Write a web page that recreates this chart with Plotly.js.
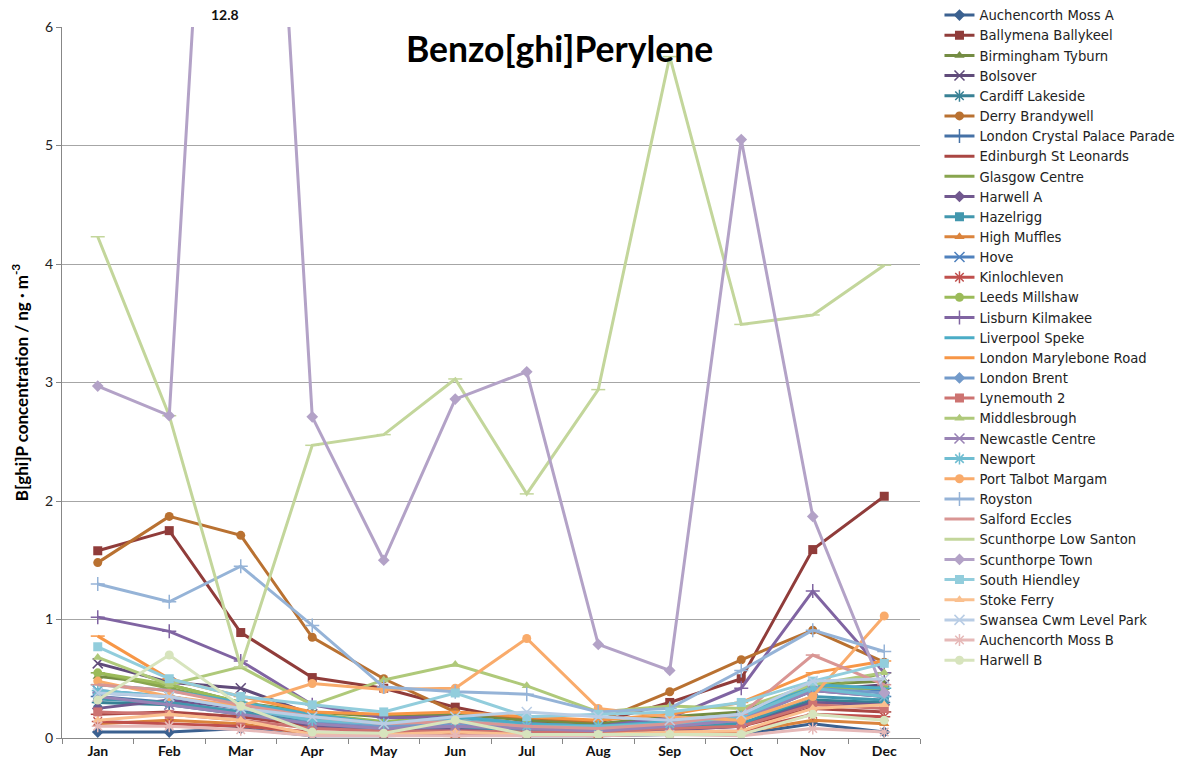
<!DOCTYPE html>
<html>
<head>
<meta charset="utf-8">
<script src="https://cdn.plot.ly/plotly-3.0.1.min.js"></script>
<style>
html,body{margin:0;padding:0;background:#fff;}
#chart{width:1185px;height:771px;}
</style>
</head>
<body>
<div id="chart"></div>
<script>
const months = ["Jan","Feb","Mar","Apr","May","Jun","Jul","Aug","Sep","Oct","Nov","Dec"];

const siteNames = [
  "Auchencorth Moss A","Ballymena Ballykeel","Birmingham Tyburn","Bolsover","Cardiff Lakeside",
  "Derry Brandywell","London Crystal Palace Parade","Edinburgh St Leonards","Glasgow Centre","Harwell A",
  "Hazelrigg","High Muffles","Hove","Kinlochleven","Leeds Millshaw","Lisburn Kilmakee","Liverpool Speke",
  "London Marylebone Road","London Brent","Lynemouth 2","Middlesbrough","Newcastle Centre","Newport",
  "Port Talbot Margam","Royston","Salford Eccles","Scunthorpe Low Santon","Scunthorpe Town",
  "South Hiendley","Stoke Ferry","Swansea Cwm Level Park","Auchencorth Moss B","Harwell B"
];

const auchencorthMossA   = [0.05,0.05,0.08,0.02,0.02,0.03,0.02,0.02,0.03,0.03,0.12,0.05];
const ballymenaBallykeel = [1.58,1.75,0.89,0.51,0.42,0.26,0.14,0.13,0.30,0.50,1.59,2.04];
const birminghamTyburn   = [0.52,0.45,0.30,0.22,0.18,0.20,0.15,0.12,0.18,0.22,0.45,0.48];
const bolsover           = [0.63,0.47,0.42,0.20,0.12,0.15,0.10,0.08,0.12,0.18,0.40,0.45];
const cardiffLakeside    = [0.30,0.28,0.20,0.12,0.08,0.15,0.08,0.07,0.10,0.12,0.32,0.30];
const derryBrandywell    = [1.48,1.87,1.71,0.85,0.50,0.22,0.17,0.14,0.39,0.66,0.91,0.64];
const londonCrystalPalace= [0.35,0.30,0.22,0.15,0.10,0.12,0.08,0.08,0.10,0.15,0.40,0.35];
const edinburghStLeonards= [0.20,0.22,0.18,0.10,0.06,0.07,0.05,0.05,0.07,0.10,0.25,0.22];
const glasgowCentre      = [0.55,0.42,0.28,0.18,0.12,0.14,0.10,0.09,0.12,0.20,0.40,0.55];
const harwellA           = [0.25,0.32,0.25,0.10,0.06,0.08,0.05,0.05,0.07,0.10,0.30,0.28];
const hazelrigg          = [0.33,0.30,0.22,0.12,0.08,0.10,0.06,0.06,0.09,0.12,0.35,0.32];
const highMuffles        = [0.12,0.15,0.12,0.03,0.03,0.02,0.03,0.02,0.04,0.05,0.15,0.12];
const hove               = [0.40,0.35,0.25,0.15,0.10,0.12,0.10,0.08,0.10,0.15,0.45,0.40];
const kinlochleven       = [0.14,0.12,0.10,0.05,0.04,0.04,0.03,0.03,0.05,0.06,0.20,0.18];
const leedsMillshaw      = [0.55,0.45,0.30,0.20,0.14,0.18,0.12,0.10,0.14,0.20,0.42,0.42];
const lisburnKilmakee    = [1.02,0.90,0.65,0.28,0.17,0.18,0.12,0.10,0.17,0.42,1.24,0.55];
const liverpoolSpeke     = [0.45,0.40,0.30,0.20,0.12,0.18,0.12,0.10,0.14,0.20,0.45,0.42];
const londonMarylebone   = [0.86,0.50,0.35,0.22,0.20,0.22,0.18,0.15,0.20,0.30,0.55,0.65];
const londonBrent        = [0.38,0.35,0.25,0.15,0.10,0.12,0.10,0.08,0.10,0.15,0.42,0.38];
const lynemouth2         = [0.22,0.20,0.15,0.08,0.06,0.06,0.05,0.05,0.08,0.10,0.28,0.25];
const middlesbrough      = [0.68,0.45,0.60,0.28,0.49,0.62,0.44,0.22,0.27,0.25,0.45,0.55];
const newcastleCentre    = [0.35,0.28,0.20,0.12,0.08,0.10,0.08,0.06,0.10,0.15,0.40,0.35];
const newport            = [0.40,0.35,0.25,0.15,0.12,0.15,0.10,0.10,0.12,0.18,0.42,0.35];
const portTalbotMargam   = [0.48,0.35,0.27,0.46,0.41,0.42,0.84,0.25,0.18,0.15,0.35,1.03];
const royston            = [1.30,1.15,1.45,0.95,0.43,0.39,0.37,0.22,0.25,0.57,0.91,0.73];
const salfordEccles      = [0.45,0.40,0.28,0.18,0.12,0.14,0.10,0.08,0.12,0.20,0.70,0.45];
const scunthorpeLowSanton= [4.23,2.72,0.60,2.47,2.56,3.03,2.06,2.94,5.75,3.49,3.57,3.99];
const scunthorpeTown     = [2.97,2.72,12.8,2.71,1.50,2.86,3.09,0.79,0.57,5.05,1.87,0.38];
const southHiendley      = [0.77,0.50,0.35,0.28,0.22,0.38,0.18,0.20,0.22,0.30,0.48,0.63];
const stokeFerry         = [0.15,0.20,0.15,0.03,0.03,0.05,0.03,0.03,0.05,0.06,0.25,0.28];
const swanseaCwmLevelPark= [0.38,0.35,0.25,0.18,0.12,0.18,0.22,0.18,0.15,0.20,0.48,0.50];
const auchencorthMossB   = [0.10,0.10,0.07,0.02,0.02,0.02,0.02,0.02,0.03,0.02,0.08,0.05];
const harwellB           = [0.32,0.70,0.27,0.05,0.04,0.15,0.03,0.03,0.03,0.03,0.20,0.15];

const seriesValues = [
  auchencorthMossA,ballymenaBallykeel,birminghamTyburn,bolsover,cardiffLakeside,derryBrandywell,
  londonCrystalPalace,edinburghStLeonards,glasgowCentre,harwellA,hazelrigg,highMuffles,hove,
  kinlochleven,leedsMillshaw,lisburnKilmakee,liverpoolSpeke,londonMarylebone,londonBrent,lynemouth2,
  middlesbrough,newcastleCentre,newport,portTalbotMargam,royston,salfordEccles,scunthorpeLowSanton,
  scunthorpeTown,southHiendley,stokeFerry,swanseaCwmLevelPark,auchencorthMossB,harwellB
];

const colors = [
  "#3B6190","#903C3A","#748C43","#604B7A","#388195","#B97131",
  "#4571A6","#AA4643","#88A54E","#71588F","#4297AE","#DB843D",
  "#4F81BD","#C0504D","#9BBB59","#8064A2","#4BACC6","#F79646",
  "#729ACA","#CD7371","#AFC97A","#9983B5","#6FBDD1","#F9AB6B",
  "#95B3D7","#D99694","#C3D69B","#B3A2C7","#92CDDC","#FAC08F",
  "#B9CDE5","#E6B9B8","#D7E4BD"
];

const markerCycle = ["diamond","square","triangle-up","x-thin-open","asterisk-open","circle","cross-thin-open","line-ew-open","line-ew-open"];

const traces = siteNames.map((name,i)=>{
  const sym = markerCycle[i % markerCycle.length];
  const open = sym.endsWith("-open");
  return {
    type:"scatter", mode:"lines+markers", name:name,
    x: months, y: seriesValues[i],
    line:{color:colors[i], width:3},
    marker:{symbol:sym, size: open ? 10 : 9, color:colors[i],
            line:{color:colors[i], width: open ? 1.5 : 0}},
    cliponaxis:true
  };
});

const layout = {
  width:1185, height:771,
  paper_bgcolor:"#fff", plot_bgcolor:"#fff",
  margin:{l:62, r:265, t:27, b:33, autoexpand:false},
  font:{family:"Lato, 'Open Sans', sans-serif", color:"#222"},
  title:{text:"<b>Benzo[ghi]Perylene</b>", font:{size:35.5, color:"#000", family:"Lato, 'Open Sans', sans-serif"},
         xref:"paper", x:0.58, xanchor:"center", yref:"container", y:1-50/771, yanchor:"middle"},
  showlegend:true,
  legend:{x:1.0227, xanchor:"left", yref:"container", y:1, yanchor:"top",
          font:{size:13.2, color:"#222", family:"'DejaVu Sans', 'Open Sans', sans-serif"},
          bgcolor:"rgba(0,0,0,0)", itemwidth:30, maxheight:770},
  xaxis:{type:"category", range:[-0.5,11.5], showgrid:false, showline:true, linecolor:"#878787", linewidth:1,
         ticks:"outside", tickson:"boundaries", ticklen:5, tickcolor:"#878787",
         tickfont:{size:14, color:"#111"}, fixedrange:true,
         tickvals: months, ticktext: months.map(m=>"<b>"+m+"</b>")},
  yaxis:{range:[0,6], dtick:1, showgrid:true, gridcolor:"#A6A6A6", gridwidth:1, showline:true, linecolor:"#878787",
         ticks:"outside", ticklen:5, tickcolor:"#878787", tickfont:{size:14, color:"#222"}, zeroline:false,
         title:{text:"<b>B[ghi]P concentration / ng · m<sup>-3</sup></b>", font:{size:17, color:"#000"}, standoff:12}},
  annotations:[{x:"Mar", y:6, xref:"x", yref:"y", text:"<b>12.8</b>", showarrow:false, xshift:-16, yanchor:"bottom", yshift:2,
                font:{size:14, color:"#111"}}]
};

Plotly.newPlot("chart", traces, layout, {displayModeBar:false, staticPlot:true});
</script>
</body>
</html>
